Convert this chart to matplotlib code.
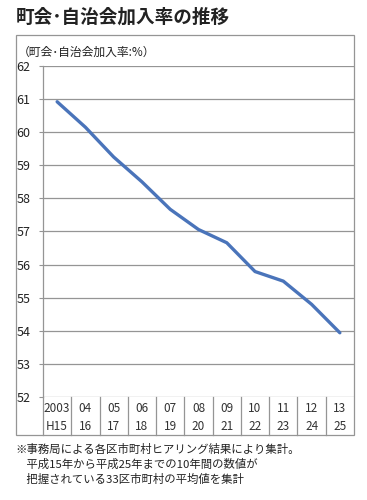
import matplotlib
matplotlib.use("Agg")
import matplotlib.pyplot as plt
from matplotlib.patches import Rectangle
from matplotlib.transforms import blended_transform_factory

plt.rcParams['font.family'] = ['Noto Sans CJK JP', 'DejaVu Sans']

years_top = ["2003", "04", "05", "06", "07", "08", "09", "10", "11", "12", "13"]
years_bottom = ["H15", "16", "17", "18", "19", "20", "21", "22", "23", "24", "25"]
rates = [60.92, 60.15, 59.25, 58.5, 57.67, 57.06, 56.66, 55.79, 55.5, 54.8, 53.94]
yticks = [52, 53, 54, 55, 56, 57, 58, 59, 60, 61, 62]

title = "町会･自治会加入率の推移"
ylabel = "（町会･自治会加入率:%）"
notes = ["※事務局による各区市町村ヒアリング結果により集計。",
         "　平成15年から平成25年までの10年間の数値が",
         "　把握されている33区市町村の平均値を集計"]

W, H = 367, 500
fig = plt.figure(figsize=(W / 100, H / 100), dpi=100)
fig.patch.set_facecolor("white")

def fx(px):
    return px / W

def fy(py):
    return 1 - py / H

ax = fig.add_axes([fx(43), fy(397), fx(354) - fx(43), fy(66) - fy(397)])
x = list(range(len(rates)))
ax.plot(x, rates, color="#4a74ba", lw=2.4, solid_capstyle="round", zorder=3)
ax.set_xlim(-0.5, len(rates) - 0.5)
ax.set_ylim(52, 62)
ax.set_yticks(yticks)
ax.set_yticklabels([str(v) for v in yticks], fontsize=9, color="#222222")
ax.set_xticks([])
for v in yticks:
    ax.axhline(v, color="#959595", lw=0.9, zorder=1)
for s in ["top", "right", "bottom"]:
    ax.spines[s].set_visible(False)
ax.spines["left"].set_color("#959595")
ax.spines["left"].set_linewidth(0.9)
ax.tick_params(axis="y", length=3, color="#959595", pad=6)
ax.tick_params(axis="x", length=0)

# table below axes
tr = blended_transform_factory(ax.transData, ax.transAxes)
row_h = (435 - 397) / (397 - 66)
for i in range(len(rates) - 1):
    ax.plot([i + 0.5, i + 0.5], [0, -row_h], transform=tr, color="#959595",
            lw=0.9, clip_on=False)
ax.plot([-0.5, -0.5], [0, -row_h], transform=tr, color="#959595", lw=0.9, clip_on=False)
for i, (a, b) in enumerate(zip(years_top, years_bottom)):
    ax.text(i, -row_h * 0.3, a, transform=tr, ha="center", va="center",
            fontsize=8.5, color="#333333")
    ax.text(i, -row_h * 0.78, b, transform=tr, ha="center", va="center",
            fontsize=8.5, color="#333333")

# outer frame
fig.patches.append(Rectangle((fx(16), fy(435)), fx(354) - fx(16), fy(35) - fy(435),
                             transform=fig.transFigure, fill=False,
                             edgecolor="#959595", lw=0.9))

fig.text(fx(16), fy(17), title, fontsize=13.4, fontweight="bold",
         ha="left", va="center", color="#222222")
fig.text(fx(18), fy(52), ylabel, fontsize=8.5, ha="left", va="center", color="#222222")
for k, line in enumerate(notes):
    fig.text(fx(15), fy(449 + k * 15), line, fontsize=8.2, ha="left",
             va="center", color="#222222")

fig.savefig("out.png", dpi=100, facecolor="white")
